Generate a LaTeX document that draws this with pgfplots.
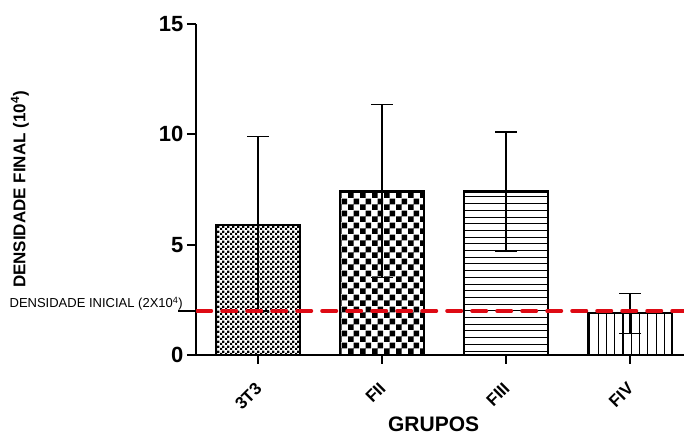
\documentclass[border=0pt]{standalone}
\usepackage{pgfplots}
\pgfplotsset{compat=1.18}
\usepackage{fontspec}
\setmainfont{Liberation Sans}
\usetikzlibrary{patterns}

\pgfdeclarepatternformonly{checkfine}{\pgfpointorigin}{\pgfpoint{5pt}{5pt}}{\pgfpoint{5pt}{5pt}}{%
  \pgfpathrectangle{\pgfpointorigin}{\pgfpoint{2.6pt}{2.6pt}}%
  \pgfpathrectangle{\pgfpoint{2.5pt}{2.5pt}}{\pgfpoint{2.6pt}{2.6pt}}%
  \pgfusepath{fill}}
\pgfdeclarepatternformonly{checkcoarse}{\pgfpointorigin}{\pgfpoint{11.6pt}{11.6pt}}{\pgfpoint{11.6pt}{11.6pt}}{%
  \pgfpathrectangle{\pgfpointorigin}{\pgfpoint{5.8pt}{5.8pt}}%
  \pgfpathrectangle{\pgfpoint{5.8pt}{5.8pt}}{\pgfpoint{5.8pt}{5.8pt}}%
  \pgfusepath{fill}}
\pgfdeclarepatternformonly{hlinesP}{\pgfpoint{-1pt}{-1pt}}{\pgfpoint{7.7pt}{7.7pt}}{\pgfpoint{6.7pt}{6.7pt}}{%
  \pgfsetlinewidth{1pt}%
  \pgfpathmoveto{\pgfpoint{-0.5pt}{3.5pt}}\pgfpathlineto{\pgfpoint{7.2pt}{3.5pt}}%
  \pgfusepath{stroke}}
\pgfdeclarepatternformonly{vlinesP}{\pgfpoint{-1pt}{-1pt}}{\pgfpoint{9.3pt}{9.3pt}}{\pgfpoint{8.3pt}{8.3pt}}{%
  \pgfsetlinewidth{1.1pt}%
  \pgfpathmoveto{\pgfpoint{0.5pt}{-0.5pt}}\pgfpathlineto{\pgfpoint{0.5pt}{8.8pt}}%
  \pgfusepath{stroke}}

\definecolor{refred}{RGB}{222,10,20}

\begin{document}
\begin{tikzpicture}
\useasboundingbox (0,0) rectangle (684pt,435pt);
\begin{axis}[
  at={(196pt,80pt)}, anchor=south west,
  scale only axis, width=488pt, height=331pt,
  xmin=-0.5, xmax=3.435, ymin=0, ymax=15,
  axis lines=left,
  axis line style={-, line width=2.5pt, black},
  xtick={0,1,2,3}, xticklabels={3T3,FII,FIII,FIV},
  ytick={0,5,10,15},
  tick align=outside,
  major tick length=9pt,
  tick style={line width=2pt, black},
  minor tick num=0,
  yticklabel style={font=\fontsize{22}{22}\selectfont\bfseries},
  xticklabel style={font=\fontsize{17}{17}\selectfont\bfseries, rotate=45, anchor=north east, xshift=-11.5pt, yshift=-6.3pt},
  xlabel={GRUPOS},
  xlabel style={font=\fontsize{21}{21}\selectfont\bfseries, at={(axis description cs:0.487,-0.208)}, anchor=center},
  ylabel={DENSIDADE FINAL (10\textsuperscript{4})},
  ylabel style={font=\fontsize{17}{17}\selectfont\bfseries, at={(axis description cs:-0.361,0.5)}, anchor=center},
  /pgf/number format/assume math mode=true,
  clip=false,
]
\addplot[ybar, bar width=84pt, bar shift=0pt, draw=black, line width=2.5pt, pattern=checkfine, pattern color=black,
  error bars/.cd, y dir=both, y explicit,
  error bar style={line width=1.4pt, black},
  error mark options={rotate=90, mark size=11pt, line width=1.4pt, black}]
  coordinates {(0,5.9) += (0,4.0) -= (0,3.9)};
\addplot[ybar, bar width=84pt, bar shift=0pt, draw=black, line width=2.5pt, pattern=checkcoarse, pattern color=black,
  error bars/.cd, y dir=both, y explicit,
  error bar style={line width=1.4pt, black},
  error mark options={rotate=90, mark size=11pt, line width=1.4pt, black}]
  coordinates {(1,7.4) += (0,3.95) -= (0,3.9)};
\addplot[ybar, bar width=84pt, bar shift=0pt, draw=black, line width=2.5pt, pattern=hlinesP, pattern color=black,
  error bars/.cd, y dir=both, y explicit,
  error bar style={line width=1.4pt, black},
  error mark options={rotate=90, mark size=11pt, line width=1.4pt, black}]
  coordinates {(2,7.4) += (0,2.7) -= (0,2.7)};
\addplot[ybar, bar width=84pt, bar shift=0pt, draw=black, line width=2.5pt, pattern=vlinesP, pattern color=black,
  error bars/.cd, y dir=both, y explicit,
  error bar style={line width=1.4pt, black},
  error mark options={rotate=90, mark size=11pt, line width=1.4pt, black}]
  coordinates {(3,1.9) += (0,0.88) -= (0,0.93)};
\addplot[refred, line width=4pt, dash pattern=on 14pt off 11pt, line cap=round] coordinates {(-0.49,2) (3.435,2)};
\draw[line width=1.5pt, black] (axis cs:-0.5,2) -- ++(-18pt,0pt);
\node[anchor=base east, font=\fontsize{13}{13}\selectfont, inner sep=0pt] at (axis cs:-0.5,2) [xshift=-13pt, yshift=3pt] {DENSIDADE INICIAL (2X10\textsuperscript{4})};
\end{axis}
\end{tikzpicture}
\end{document}
